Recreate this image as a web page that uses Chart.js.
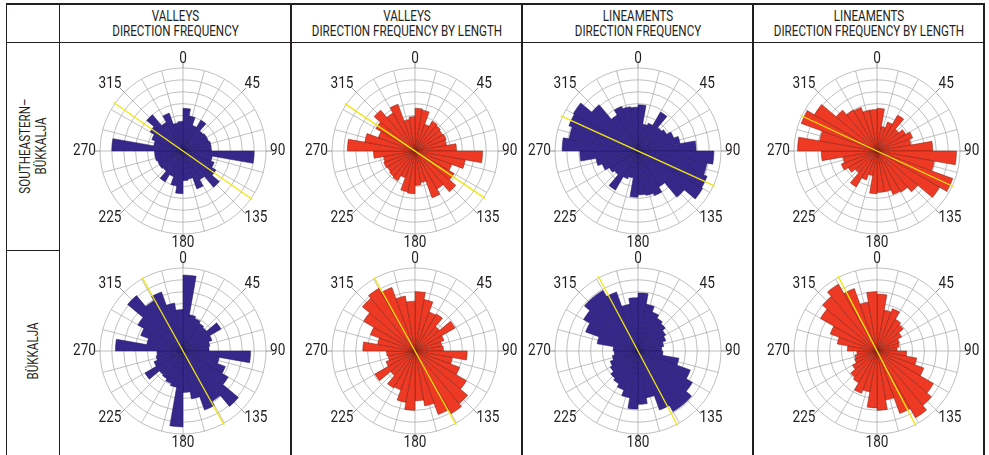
<!DOCTYPE html>
<html>
<head>
<meta charset="utf-8">
<script src="https://cdn.jsdelivr.net/npm/chart.js@4.4.1/dist/chart.umd.min.js"></script>
<style>
  body { margin:0; width:989px; height:455px; background:#fff; position:relative; overflow:hidden;
         font-family: Roboto, "Liberation Sans", sans-serif; color:#231f20; }
  .ln { position:absolute; background:#231f20; }
  .head { position:absolute; top:9px; text-align:center; font-size:14px; line-height:15px; transform:scaleX(0.83); }
  .rowlab { position:absolute; font-size:14px; line-height:16px; text-align:center; white-space:nowrap;
            transform: translate(-50%,-50%) rotate(-90deg) scaleX(0.83); }
  canvas { position:absolute; }
</style>
</head>
<body>
<div class="ln" style="left:6px;top:3px;width:979px;height:2px"></div>
<div class="ln" style="left:6px;top:3px;width:1px;height:452px"></div>
<div class="ln" style="left:59px;top:3px;width:1px;height:452px"></div>
<div class="ln" style="left:6px;top:42px;width:979px;height:1px"></div>
<div class="ln" style="left:6px;top:250px;width:54px;height:1px"></div>
<div class="ln" style="left:290px;top:3px;width:2px;height:452px"></div>
<div class="ln" style="left:521px;top:3px;width:2px;height:452px"></div>
<div class="ln" style="left:752px;top:3px;width:2px;height:452px"></div>
<div class="ln" style="left:983px;top:3px;width:2px;height:452px"></div>

<div class="head" style="left:60px;width:231px">VALLEYS<br>DIRECTION FREQUENCY</div>
<div class="head" style="left:292px;width:230px">VALLEYS<br>DIRECTION FREQUENCY BY LENGTH</div>
<div class="head" style="left:523px;width:230px">LINEAMENTS<br>DIRECTION FREQUENCY</div>
<div class="head" style="left:754px;width:230px">LINEAMENTS<br>DIRECTION FREQUENCY BY LENGTH</div>

<div class="rowlab" style="left:33px;top:146px">SOUTHEASTERN–<br>BÜKKALJA</div>
<div class="rowlab" style="left:33px;top:351px">BÜKKALJA</div>

<script>
// bin width 10°, values for 0–180° (axial data, the 180–360° half repeats them)
const binWidth = 10;
const bins = Array.from({ length: 36 }, (_, i) => `${i * binWidth}–${(i + 1) * binWidth}`);
const compassLabels = [0, 45, 90, 135, 180, 225, 270, 315];
const spokeDirs = Array.from({ length: 24 }, (_, i) => i * 15);

// Southeastern Bükkalja
const seValleysFreq = [3.6, 3.0, 2.3, 3.0, 2.2, 2.3, 2.3, 2.4, 2.4, 6.0, 2.5, 2.8, 3.2, 4.0, 2.8, 3.4, 2.4, 2.5];
const seValleysLen  = [3.6, 3.5, 2.4, 2.9, 2.8, 2.7, 2.8, 2.7, 3.5, 5.7, 4.3, 3.3, 3.8, 4.5, 3.7, 4.2, 2.7, 2.9];
const seLineamFreq  = [3.9, 2.3, 2.5, 3.8, 2.6, 2.8, 3.2, 3.6, 4.9, 6.4, 5.9, 6.2, 6.3, 5.1, 3.5, 4.0, 3.8, 3.7];
const seLineamLen   = [3.6, 2.1, 2.6, 3.5, 2.4, 2.8, 3.2, 2.9, 4.7, 6.7, 4.9, 6.8, 6.1, 4.5, 4.0, 3.9, 3.5, 3.5];
// Bükkalja
const bkValleysFreq = [6.4, 3.1, 2.9, 2.7, 2.6, 3.7, 2.6, 2.3, 2.2, 5.7, 3.1, 3.8, 4.4, 6.1, 4.9, 5.3, 4.1, 3.5];
const bkValleysLen  = [5.0, 4.4, 3.5, 3.6, 2.7, 3.9, 2.6, 2.3, 2.4, 4.4, 3.2, 4.0, 5.0, 5.8, 6.1, 5.7, 4.7, 4.2];
const bkLineamFreq  = [4.9, 4.0, 3.5, 3.2, 3.0, 2.7, 2.5, 2.2, 2.0, 2.1, 3.5, 4.7, 5.3, 5.9, 5.9, 5.3, 4.0, 4.5];
const bkLineamLen   = [4.8, 3.5, 3.8, 3.1, 2.9, 2.4, 2.0, 1.9, 1.7, 2.5, 3.4, 4.2, 5.5, 6.0, 6.5, 5.6, 4.2, 5.0];

// mean directions (yellow line), degrees
const meanDirs = [125, 124, 114.5, 115, 151, 151, 152, 152.5];

const series = [seValleysFreq, seValleysLen, seLineamFreq, seLineamLen,
                bkValleysFreq, bkValleysLen, bkLineamFreq, bkLineamLen];

const colCenters = [183, 415, 638, 877];
const rowCenters = [151, 351];
const BLUE = "#35288a", BLUE_EDGE = "#1f175e";
const RED = "#ee3a24", RED_EDGE = "#7d1c0f";

const rosePlugin = {
  id: "rose",
  beforeDatasetsDraw(chart) {
    const r = chart.scales.r, ctx = chart.ctx;
    ctx.save();
    ctx.lineWidth = 0.7;
    ctx.strokeStyle = "#a5a5a5";
    spokeDirs.forEach(d => {
      const p = r.getPointPositionForValue(d / binWidth, r.max);
      ctx.beginPath();
      ctx.moveTo(r.xCenter, r.yCenter);
      ctx.lineTo(p.x, p.y);
      ctx.stroke();
    });
    ctx.restore();
  },
  afterDatasetsDraw(chart, args, opts) {
    const r = chart.scales.r, ctx = chart.ctx;
    const a = r.getPointPositionForValue(opts.mean / binWidth, r.max * 1.02);
    const b = r.getPointPositionForValue((opts.mean + 180) / binWidth, r.max * 1.02);
    ctx.save();
    ctx.strokeStyle = "#f3e60e";
    ctx.lineWidth = 1.3;
    ctx.beginPath();
    ctx.moveTo(a.x, a.y);
    ctx.lineTo(b.x, b.y);
    ctx.stroke();

    ctx.font = "16px Roboto";
    ctx.fillStyle = "#231f20";
    ctx.textAlign = "center";
    ctx.textBaseline = "middle";
    ctx.strokeStyle = "#777";
    ctx.lineWidth = 0.8;
    compassLabels.forEach(d => {
      const i = d / binWidth;
      const p0 = r.getPointPosition(i, r.drawingArea);
      const p1 = r.getPointPosition(i, r.drawingArea + 6);
      ctx.beginPath();
      ctx.moveTo(p0.x, p0.y);
      ctx.lineTo(p1.x, p1.y);
      ctx.stroke();
      const p = r.getPointPosition(i, r.drawingArea + 4);
      const s = Math.sin(d * Math.PI / 180), c = Math.cos(d * Math.PI / 180);
      const w = ctx.measureText(String(d)).width * 0.85;
      const x = p.x + (Math.abs(s) > 0.1 ? Math.sign(s) * w / 2 : 0);
      const y = p.y + (Math.abs(c) > 0.1 ? -Math.sign(c) * 5 : 0);
      ctx.save();
      ctx.translate(x, y);
      ctx.scale(0.85, 1);
      ctx.fillText(String(d), 0, 0);
      ctx.restore();
    });
    ctx.restore();
  }
};

series.forEach((half, k) => {
  const col = k % 4, row = Math.floor(k / 4);
  const byLength = col % 2 === 1;
  const canvas = document.createElement("canvas");
  canvas.width = 228;
  canvas.height = 206;
  canvas.style.left = (colCenters[col] - 114) + "px";
  canvas.style.top = (rowCenters[row] - 103) + "px";
  document.body.appendChild(canvas);

  new Chart(canvas, {
    type: "polarArea",
    data: {
      labels: bins,
      datasets: [{
        data: half.concat(half),
        backgroundColor: byLength ? RED : BLUE,
        borderColor: byLength ? RED_EDGE : BLUE_EDGE,
        borderWidth: 0.5
      }]
    },
    options: {
      responsive: false,
      animation: false,
      layout: { padding: { top: 20, bottom: 20, left: 31, right: 31 } },
      plugins: {
        legend: { display: false },
        tooltip: { enabled: false },
        rose: { mean: meanDirs[k] }
      },
      scales: {
        r: {
          min: 0,
          max: 7,
          startAngle: 0,
          ticks: { display: false, stepSize: 1 },
          grid: { color: "#a5a5a5", lineWidth: 0.7, circular: true },
          angleLines: { display: false },
          pointLabels: { display: false }
        }
      }
    },
    plugins: [rosePlugin]
  });
});
</script>
</body>
</html>
